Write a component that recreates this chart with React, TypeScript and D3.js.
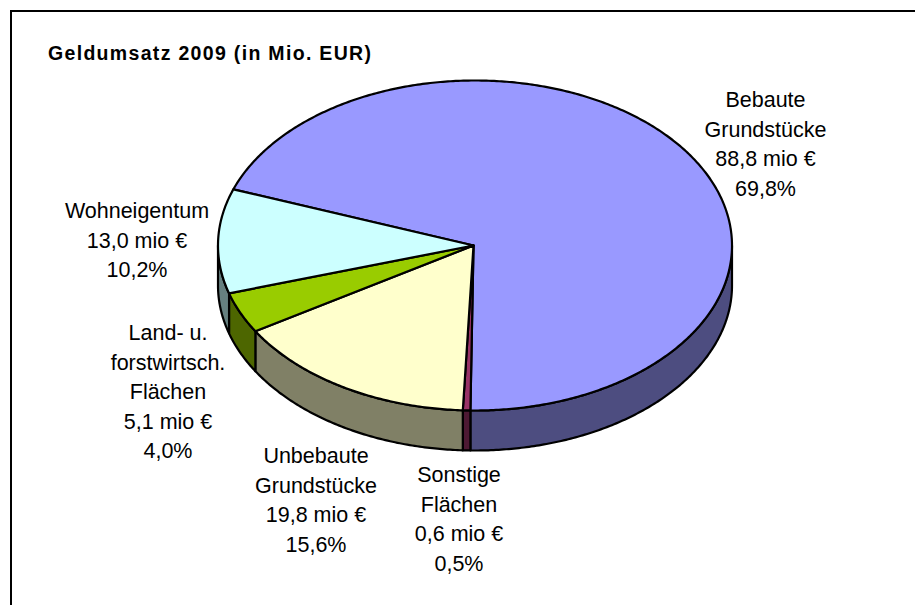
import React from "react";
import * as d3 from "d3";

const categories = ["Bebaute Grundstücke", "Sonstige Flächen", "Unbebaute Grundstücke", "Land- u. forstwirtsch. Flächen", "Wohneigentum"];
const values = [88.8, 0.6, 19.8, 5.1, 13.0];
const percents = ["69,8%", "0,5%", "15,6%", "4,0%", "10,2%"];
const amounts = ["88,8 mio €", "0,6 mio €", "19,8 mio €", "5,1 mio €", "13,0 mio €"];
const nameLines = [["Bebaute", "Grundstücke"], ["Sonstige", "Flächen"], ["Unbebaute", "Grundstücke"], ["Land- u.", "forstwirtsch.", "Flächen"], ["Wohneigentum"]];
const topColors = ["#9999FF", "#993366", "#FFFFCC", "#99CC00", "#CCFFFF"];
const sideColors = ["#4D4D80", "#4D1933", "#808066", "#4D6600", "#668080"];
const labelCx = [765.5, 459, 316, 168, 137];
const labelTop = [107, 482, 463, 340, 218];

const W = 915, H = 605;
const cx = 475, cy = 245.5, rx = 257, ry = 165, depth = 40;
const apexX = 473.5;
const START = (-70.1 * Math.PI) / 180;

const pieGen = d3.pie<number>().sort(null).startAngle(START).endAngle(START + 2 * Math.PI);
const arcs = pieGen(values);
const px = (a: number) => cx + rx * Math.sin(a);
const py = (a: number) => cy - ry * Math.cos(a);
const line = d3.line<[number, number]>();
const samples = (a0: number, a1: number): number[] => {
  const n = Math.max(2, Math.ceil(Math.abs(a1 - a0) / 0.01));
  return d3.range(n + 1).map((i) => a0 + ((a1 - a0) * i) / n);
};

function sidePath(a0: number, a1: number): string | null {
  const two = 2 * Math.PI;
  const parts: string[] = [];
  for (const k of [-1, 0, 1]) {
    const s = Math.max(a0, Math.PI / 2 + k * two);
    const e = Math.min(a1, (3 * Math.PI) / 2 + k * two);
    if (e > s) {
      const as = samples(s, e);
      const top = as.map((a) => [px(a), py(a)] as [number, number]);
      const bottom = as.slice().reverse().map((a) => [px(a), py(a) + depth] as [number, number]);
      parts.push(line([...top, ...bottom])! + "Z");
    }
  }
  return parts.length ? parts.join("") : null;
}

function topPath(a0: number, a1: number): string {
  return line([[apexX, cy], ...samples(a0, a1).map((a) => [px(a), py(a)] as [number, number])])! + "Z";
}

const FONT = "'Liberation Sans', Arial, sans-serif";
const LINE_H = 29.6;

export default function App() {
  return (
    <svg width={W} height={H} viewBox={`0 0 ${W} ${H}`} style={{ position: "absolute", left: 0, top: 0, background: "#fff" }}>
      <rect x={11} y={11} width={W + 20} height={H + 20} fill="#fff" stroke="#000" strokeWidth={2} />
      <text x={48} y={59.5} fontFamily={FONT} fontWeight={700} fontSize={19.5} fill="#000" textLength={323} lengthAdjust="spacing">
        Geldumsatz 2009 (in Mio. EUR)
      </text>
      <g stroke="#000" strokeWidth={2.2} strokeLinejoin="round">
        {arcs.map((d, i) => {
          const p = sidePath(d.startAngle, d.endAngle);
          return p ? <path key={categories[i]} d={p} fill={sideColors[i]} /> : null;
        })}
        {arcs.map((d, i) => (
          <path key={categories[i]} d={topPath(d.startAngle, d.endAngle)} fill={topColors[i]} />
        ))}
      </g>
      <g fontFamily={FONT} fontSize={21.5} fill="#000" textAnchor="middle">
        {categories.map((c, i) => {
          const lines = [...nameLines[i], amounts[i], percents[i]];
          return (
            <text key={c}>
              {lines.map((t, j) => (
                <tspan key={j} x={labelCx[i]} y={labelTop[i] + j * LINE_H}>
                  {t}
                </tspan>
              ))}
            </text>
          );
        })}
      </g>
    </svg>
  );
}
